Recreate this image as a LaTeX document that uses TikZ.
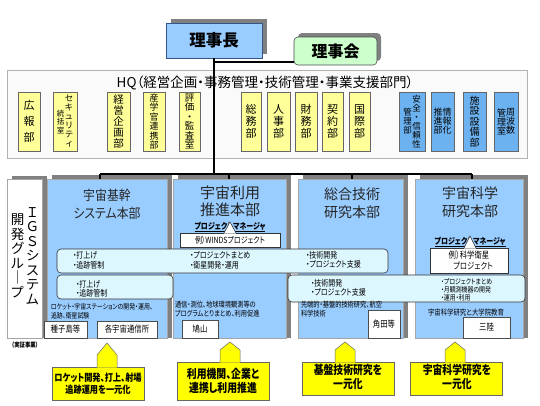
\documentclass[tikz,border=0pt]{standalone}
\usepackage{fontspec}
\setmainfont{Noto Sans CJK JP}[RawFeature=+palt]
\newfontfamily\jpn{Noto Sans CJK JP}[RawFeature=+palt, FakeStretch=0.82]
\newfontfamily\jpm{Noto Sans CJK JP}[RawFeature=+palt, FakeStretch=0.88]
\newcommand\vcol[2]{\parbox[c]{#1}{\centering\lineskiplimit=-6pt #2}}
\definecolor{mainblue}{HTML}{99CCFF}
\definecolor{hqyellow}{HTML}{FFFF99}
\definecolor{hqblue}{HTML}{6CB2F0}
\definecolor{bandcyan}{HTML}{DDF7FF}
\definecolor{greenbox}{HTML}{CCFFCC}
\definecolor{shadowgray}{HTML}{808080}
\definecolor{callyellow}{HTML}{FFFF00}
\definecolor{bordblue}{HTML}{335588}
\begin{document}
\begin{tikzpicture}[x=1pt,y=-1pt,
  every node/.style={inner sep=0pt, outer sep=0pt},
  mainbx/.style={fill=mainblue, draw=gray!70, line width=0.5pt, anchor=north west},
  hqy/.style={fill=hqyellow, draw=gray!80!black, line width=0.5pt, anchor=north west, align=center, minimum height=59},
  hqb/.style={fill=hqblue, draw=gray!80!black, line width=0.5pt, anchor=north west, align=center, minimum height=59},
  bandbx/.style={fill=bandcyan, draw=black!80, line width=0.6pt, rounded corners=4pt, anchor=north west},
  locbx/.style={fill=white, draw=black!70, line width=0.5pt, anchor=north west, font=\jpn\fontsize{9}{10}\selectfont},
  conn/.style={draw=black, line width=1.3pt},
  bandtxt/.style={anchor=west, align=left, font=\jpn\fontsize{8.5}{9.5}\selectfont},
  desctxt/.style={anchor=west, align=left, font=\jpn\fontsize{7.2}{9}\selectfont},
  calloutfill/.style={fill=callyellow, draw=none},
  calloutline/.style={draw=black!60, line width=0.5pt},
  callouttxt/.style={align=center, font=\jpn\bfseries\fontsize{12}{14}\selectfont},
  pmlabel/.style={font=\jpn\bfseries\fontsize{8.5}{9}\selectfont},
  titletxt/.style={align=center, text=black!85, font=\fontsize{14}{18}\selectfont},
]
\useasboundingbox (0,0) rectangle (540,405);

% HQ frame
\node[fill=gray!4, draw=gray!60, line width=0.6pt, anchor=north west, minimum width=520, minimum height=88] (hq) at (7,70) {};
\node[font=\fontsize{13.5}{14}\selectfont] (hqtitle) at (265,83) {HQ（経営企画・事務管理・技術管理・事業支援部門）};

% HQ departments
\node[hqy, minimum width=22, font=\fontsize{11}{16}\selectfont] (kouhou) at (18,92) {広\\報\\部};
\node[hqy, minimum width=24] (sec) at (53,92) {{\fontsize{7.5}{8.5}\selectfont\vcol{8pt}{統\\括\\室}}{\fontsize{8.5}{9}\selectfont\vcol{9pt}{セ\\キ\\ュ\\リ\\テ\\ィ}}};
\node[hqy, minimum width=23, font=\fontsize{10.5}{11}\selectfont] (keiei) at (107,92) {経\\営\\企\\画\\部};
\node[hqy, minimum width=22, font=\fontsize{9}{9.5}\selectfont] (sangaku) at (143,92) {産\\学\\官\\連\\携\\部};
\node[hqy, minimum width=21, font=\fontsize{9.5}{9.5}\selectfont] (hyouka) at (179,92) {評\\価\\・\\監\\査\\室};
\node[hqy, minimum width=20, font=\fontsize{11}{12}\selectfont] (soumu) at (241,92) {総\\務\\部};
\node[hqy, minimum width=23, font=\fontsize{11}{12}\selectfont] (jinji) at (267,92) {人\\事\\部};
\node[hqy, minimum width=22, font=\fontsize{11}{12}\selectfont] (zaimu) at (295,92) {財\\務\\部};
\node[hqy, minimum width=21, font=\fontsize{11}{12}\selectfont] (keiyaku) at (322,92) {契\\約\\部};
\node[hqy, minimum width=21, font=\fontsize{11}{12}\selectfont] (kokusai) at (349,92) {国\\際\\部};
\node[hqb, minimum width=26, font=\fontsize{8.5}{9}\selectfont] (anzen) at (399,92) {\vcol{9pt}{管\\理\\部}\vcol{9pt}{安\\全\\・\\信\\頼\\性}};
\node[hqb, minimum width=23, font=\fontsize{9}{9}\selectfont] (jouhou) at (431,92) {\vcol{9pt}{推\\進\\部}\vcol{9pt}{情\\報\\化}};
\node[hqb, minimum width=23, font=\fontsize{10}{10.5}\selectfont] (shisetsu) at (463,92) {施\\設\\設\\備\\部};
\node[hqb, minimum width=24, font=\fontsize{9}{9}\selectfont] (shuuha) at (494,92) {\vcol{9pt}{管\\理\\室}\vcol{9pt}{周\\波\\数}};

% top boxes
\fill[shadowgray] (171,19) rectangle (267,54);
\node[fill=mainblue, draw=bordblue, line width=0.6pt, anchor=north west, minimum width=96, minimum height=35, font=\bfseries\fontsize{16.5}{17}\selectfont] (rijicho) at (166,23) {理事長};
\fill[shadowgray, rounded corners=4pt] (298,33) rectangle (381,61);
\node[fill=greenbox, draw=black!70, line width=0.6pt, rounded corners=4pt, anchor=north west, minimum width=83, minimum height=28, font=\bfseries\fontsize{16}{17}\selectfont] (rijikai) at (294,37) {理事会};

% connectors
\coordinate (busmid) at (214,174);
\coordinate (rk) at (214,62);
\coordinate (d1) at (100,174);
\coordinate (d2) at (229,174);
\coordinate (d3) at (352,174);
\coordinate (d4) at (472,174);

% main boxes
\fill[shadowgray] (12,176) rectangle (47,338);
\node[fill=white, draw=gray!70, line width=0.5pt, anchor=north west, minimum width=35, minimum height=159] (igs) at (7,179) {};
\fill[shadowgray] (52,175) rectangle (172,338);
\node[mainbx, minimum width=120, minimum height=159] (b1) at (47,179) {};
\fill[shadowgray] (178,175) rectangle (291,338);
\node[mainbx, minimum width=113, minimum height=159] (b2) at (173,179) {};
\fill[shadowgray] (303,175) rectangle (408,338);
\node[mainbx, minimum width=105, minimum height=159] (b3) at (298,179) {};
\fill[shadowgray] (420,175) rectangle (528,338);
\node[mainbx, minimum width=108, minimum height=159] (b4) at (415,179) {};

\draw[conn] (rijicho.south) -- (busmid);
\draw[conn] (rk) -- (rk -| rijikai.west);
\draw[conn] (d1) -- (d4);
\draw[conn] (d1) -- (d1 |- b1.north);
\draw[conn] (d2) -- (d2 |- b2.north);
\draw[conn] (d3) -- (d3 |- b3.north);
\draw[conn] (d4) -- (d4 |- b4.north);

\node[font=\fontsize{13.5}{14.5}\selectfont] (igstxt) at (25,256) {\vcol{15pt}{開\\発\\グ\\ル\\｜\\プ}\vcol{15pt}{Ｉ\\Ｇ\\Ｓ\\シ\\ス\\テ\\ム}};

\node[titletxt, font=\jpm\fontsize{13.5}{18}\selectfont] (t1) at (107,204) {宇宙基幹\\システム本部};
\node[titletxt, font=\fontsize{15}{17}\selectfont] (t2) at (230,201) {宇宙利用\\推進本部};
\node[titletxt] (t3) at (352,203) {総合技術\\研究本部};
\node[titletxt] (t4) at (470,202) {宇宙科学\\研究本部};

% project manager labels and callouts
\node[pmlabel] (pm2) at (230,227) {\underline{プロジェクトマネージャ}};
\node[fill=white, draw=black!80, line width=0.5pt, minimum width=100, minimum height=14, font=\jpn\fontsize{8.5}{9}\selectfont] (winds) at (230,240) {例）WINDSプロジェクト};
\fill[white] (224,233.6) -- (230,222) -- (236,233.6) -- cycle;
\draw[black!80, line width=0.5pt] (224,233) -- (230,222) -- (236,233);

\node[pmlabel] (pm4) at (470,242) {\underline{プロジェクトマネージャ}};
\node[fill=white, draw=black!80, line width=0.5pt, minimum width=78, minimum height=25, align=center, font=\jpn\fontsize{9}{10.5}\selectfont] (kagaku) at (469,260.5) {例）科学衛星\\\hspace*{8pt}プロジェクト};
\fill[white] (464,248.6) -- (470,236) -- (476,248.6) -- cycle;
\draw[black!80, line width=0.5pt] (464,248) -- (470,236) -- (476,248);

% bands
\node[bandbx, minimum width=116, minimum height=24] (bandb1) at (57,275) {};
\node[bandbx, minimum width=237, minimum height=27] (bandb2) at (288,275) {};
\node[bandbx, minimum width=331, minimum height=24] (banda) at (57,249) {};

\node[bandtxt] (a1) at (73,260.5) {・打上げ\\・追跡管制};
\node[bandtxt] (a2) at (190,260.5) {・プロジェクトまとめ\\・衛星開発・運用};
\node[bandtxt] (a3) at (306,260) {・技術開発\\・プロジェクト支援};
\node[bandtxt] (bb1) at (76,289) {・打上げ\\・追跡管制};
\node[bandtxt] (bb2) at (311,288) {・技術開発\\・プロジェクト支援};
\node[bandtxt, font=\jpn\fontsize{7.2}{8}\selectfont] (bb3) at (441,290) {・プロジェクトまとめ\\・月観測機器の開発\\・運用・利用};

% descriptions
\node[desctxt] (dsc1) at (51,311) {ロケット・宇宙ステーションの開発・運用、\\追跡、衛星試験};
\node[desctxt, font=\jpn\fontsize{7.6}{8.5}\selectfont] (dsc2) at (175,309) {通信・測位、地球環境観測等の\\プログラムとりまとめ、利用促進};
\node[desctxt, font=\jpn\fontsize{7.6}{8.5}\selectfont] (dsc3) at (301,309) {先端的・基盤的技術研究、航空\\科学技術};
\node[desctxt, font=\jpn\fontsize{7.8}{8.5}\selectfont] (dsc4) at (428,313) {宇宙科学研究と大学院教育};

% location boxes
\node[locbx, minimum width=43, minimum height=17] (tane) at (44,321) {種子島等};
\node[locbx, minimum width=60, minimum height=17] (tsushin) at (97,321) {各宇宙通信所};
\node[locbx, minimum width=36, minimum height=18] (hato) at (182,320) {鳩山};
\node[locbx, minimum width=32, minimum height=28] (kakuda) at (368,310) {角田等};
\node[locbx, minimum width=47, minimum height=21] (sanriku) at (463,317) {三陸};

\node[font=\jpn\bfseries\fontsize{6.5}{7}\selectfont] (jissho) at (25,345) {（実証事業）};

% yellow callouts
\node[calloutfill, calloutline, anchor=north west, minimum width=92, minimum height=33] (c1) at (52,367) {};
\fill[callyellow] (97,367.6) -- (97,355) -- (107,343) -- (117,355) -- (117,367.6) -- cycle;
\draw[calloutline] (97,367) -- (97,355) -- (107,343) -- (117,355) -- (117,367);
\node[callouttxt, font=\jpn\bfseries\fontsize{10}{11.5}\selectfont] (c1t) at (98,383.5) {ロケット開発、打上、射場\\追跡運用を一元化};

\node[calloutfill, calloutline, anchor=north west, minimum width=92, minimum height=38] (c2) at (177,362) {};
\fill[callyellow] (220,362.6) -- (220,350) -- (230,342) -- (240,350) -- (240,362.6) -- cycle;
\draw[calloutline] (220,362) -- (220,350) -- (230,342) -- (240,350) -- (240,362);
\node[callouttxt] (c2t) at (223,381) {利用機関、企業と\\連携し利用推進};

\node[calloutfill, calloutline, anchor=north west, minimum width=92, minimum height=33] (c3) at (302,362) {};
\fill[callyellow] (335,362.6) -- (335,350) -- (345,342) -- (355,350) -- (355,362.6) -- cycle;
\draw[calloutline] (335,362) -- (335,350) -- (345,342) -- (355,350) -- (355,362);
\node[callouttxt] (c3t) at (348,377) {基盤技術研究を\\一元化};

\node[calloutfill, calloutline, anchor=north west, minimum width=92, minimum height=33] (c4) at (410,362) {};
\fill[callyellow] (445,362.6) -- (445,350) -- (455,342) -- (465,350) -- (465,362.6) -- cycle;
\draw[calloutline] (445,362) -- (445,350) -- (455,342) -- (465,350) -- (465,362);
\node[callouttxt] (c4t) at (457,377) {宇宙科学研究を\\一元化};
\end{tikzpicture}
\end{document}
